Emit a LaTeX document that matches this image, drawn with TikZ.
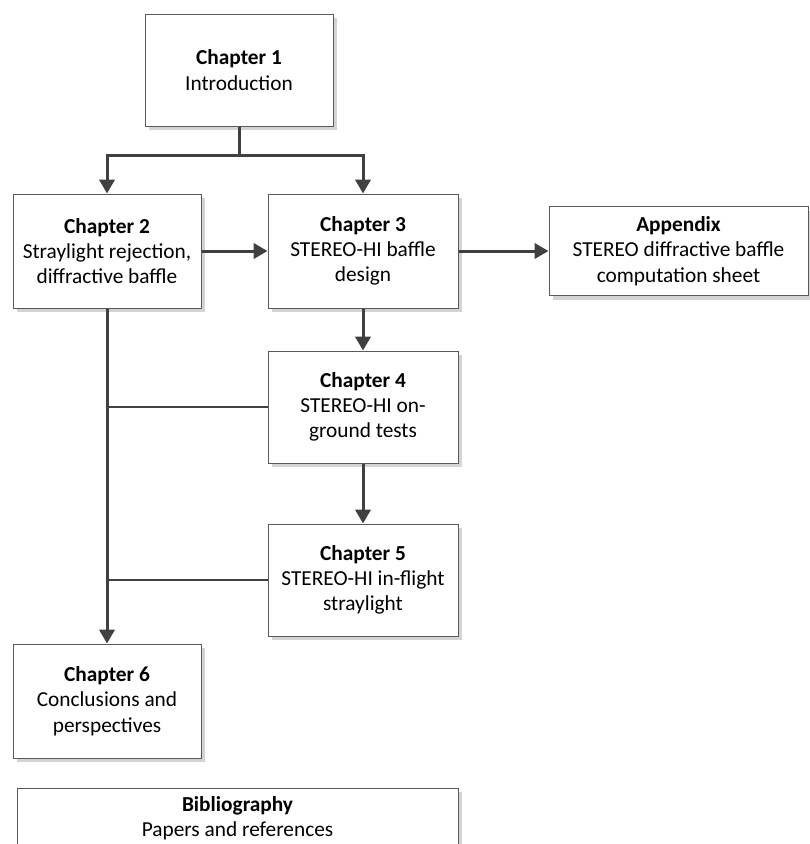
\documentclass[tikz,border=0pt]{standalone}
\usepackage{fontspec}
\setmainfont{Carlito}
\usetikzlibrary{arrows.meta,shadows}
\definecolor{boxgray}{HTML}{5A5A5A}
\definecolor{conngray}{HTML}{404040}
\definecolor{shadowgray}{HTML}{D4D4D4}
\begin{document}
\begin{tikzpicture}[x=0.75pt,y=-0.75pt,
  chbox/.style={draw=boxgray, line width=0.75pt, fill=white, align=center,
    inner sep=0pt, font=\fontsize{16}{19}\selectfont,
    general shadow={fill=shadowgray, shadow xshift=3pt, shadow yshift=-3pt}},
  conn/.style={draw=conngray, line width=2.25pt},
  sideconn/.style={draw=conngray, line width=1.6pt},
  arr/.style={conn, -{Triangle[length=10.5pt,width=11.5pt]}}
]
\useasboundingbox (0,0) rectangle (810,844);
\begin{scope}
\clip (0,0) rectangle (810,844);
\node[chbox, minimum width=141pt, minimum height=84pt] (c1) at (239,70)
  {\textbf{Chapter 1}\\Introduction};
\node[chbox, minimum width=141pt, minimum height=85.5pt] (c2) at (107,251)
  {\textbf{Chapter 2}\\Straylight rejection,\\diffractive baffle};
\node[chbox, minimum width=142.5pt, minimum height=85.5pt] (c3) at (363,251)
  {\textbf{Chapter 3}\\STEREO-HI baffle\\design};
\node[chbox, minimum width=194.25pt, minimum height=66.75pt] (app) at (678.5,251)
  {\textbf{Appendix}\\STEREO diffractive baffle\\computation sheet};
\node[chbox, minimum width=142.5pt, minimum height=84pt] (c4) at (363,407)
  {\textbf{Chapter 4}\\STEREO-HI on-\\ground tests};
\node[chbox, minimum width=142.5pt, minimum height=84pt] (c5) at (363,580)
  {\textbf{Chapter 5}\\STEREO-HI in-flight\\straylight};
\node[chbox, minimum width=141pt, minimum height=85.5pt] (c6) at (107,701)
  {\textbf{Chapter 6}\\Conclusions and\\perspectives};
\node[chbox, minimum width=330.75pt, minimum height=45.75pt] (bib) at (237.5,818.5)
  {\textbf{Bibliography}\\Papers and references};
\end{scope}

\coordinate (j1) at (239,155);
\draw[conn] (c1.south) -- (j1);
\draw[arr] (j1) -| (c2.north);
\draw[arr] (j1) -| (c3.north);
\draw[arr] (c2.east) -- (c3.west);
\draw[arr] (c3.east) -- (app.west);
\draw[arr] (c3.south) -- (c4.north);
\draw[arr] (c4.south) -- (c5.north);
\draw[arr] (c2.south) -- (c6.north);
\draw[sideconn] (c4.west) -- (c4.west -| c2.south);
\draw[sideconn] (c5.west) -- (c5.west -| c2.south);
\end{tikzpicture}
\end{document}
